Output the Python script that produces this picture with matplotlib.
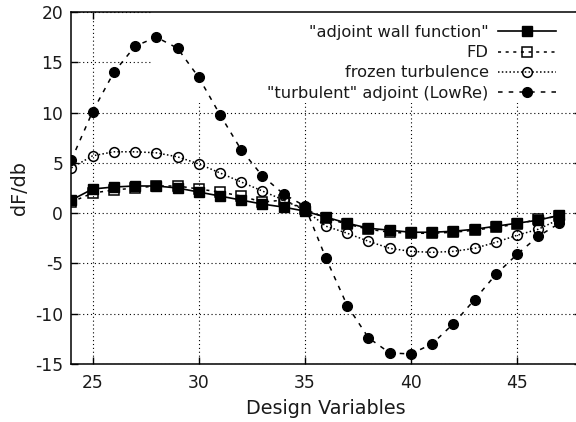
import matplotlib
matplotlib.use('Agg')
import matplotlib.pyplot as plt
from matplotlib.patches import Rectangle

plt.rcParams['font.family'] = ['DejaVu Sans']
plt.rcParams['axes.unicode_minus'] = False

# design variable index
design_vars = list(range(24, 48))

# "adjoint wall function"
wall_fn = [1.3, 2.4, 2.6, 2.7, 2.7, 2.5, 2.1, 1.7, 1.3, 0.9, 0.6, 0.2,
           -0.4, -1.0, -1.5, -1.7, -1.9, -1.9, -1.8, -1.6, -1.3, -1.0, -0.7, -0.2]
# finite differences
fd = [1.1, 2.0, 2.3, 2.5, 2.7, 2.7, 2.4, 2.1, 1.7, 1.1, 1.3, 0.4,
      -0.5, -1.1, -1.6, -1.9, -2.0, -2.0, -1.9, -1.7, -1.4, -1.1, -0.6, -0.3]
# frozen turbulence
frozen = [4.5, 5.7, 6.1, 6.1, 6.0, 5.6, 4.9, 4.0, 3.1, 2.2, 1.3, 0.3,
          -1.3, -2.0, -2.8, -3.5, -3.8, -3.9, -3.8, -3.5, -2.9, -2.2, -1.6, -0.6]
# "turbulent" adjoint (LowRe)
low_re = [5.3, 10.1, 14.0, 16.6, 17.5, 16.4, 13.5, 9.8, 6.3, 3.7, 1.9, 0.7,
          -4.5, -9.2, -12.4, -13.9, -14.0, -13.0, -11.0, -8.6, -6.1, -4.1, -2.3, -1.0]

fig = plt.figure(figsize=(5.76, 4.22), dpi=100)
# axes run a bit past the right edge, like the cropped original
ax = fig.add_axes([71.4 / 576, 58 / 422, 509.3 / 576, 352 / 422])

ax.set_axisbelow(True)
ax.grid(True, color='black', linestyle=(0, (1, 2.5)), linewidth=0.8)

# opaque key area hides the grid under the legend
ax.add_patch(Rectangle((0.158, 0.741), 0.842, 0.259, transform=ax.transAxes,
                       facecolor='white', edgecolor='none', zorder=1))

ax.plot(design_vars, wall_fn, color='black', linestyle='-', linewidth=1.2,
        marker='s', markersize=7.5, markerfacecolor='black',
        label='"adjoint wall function"', zorder=5)
ax.plot(design_vars, fd, color='black', linestyle=(0, (2, 3)), linewidth=1.1,
        marker='s', markersize=7, markerfacecolor='none', markeredgewidth=1.1,
        label='FD', zorder=4)
ax.plot(design_vars, frozen, color='black', linestyle=(0, (1, 1.5)), linewidth=1.1,
        marker='o', markersize=7, markerfacecolor='none', markeredgewidth=1.1,
        label='frozen turbulence', zorder=3)
ax.plot(design_vars, low_re, color='black', linestyle=(0, (3, 4)), linewidth=1.1,
        marker='o', markersize=7, markerfacecolor='black',
        label='"turbulent" adjoint (LowRe)', zorder=2)

ax.set_xlim(24, 48)
ax.set_ylim(-15, 20)
ax.set_xticks([25, 30, 35, 40, 45])
ax.set_yticks([-15, -10, -5, 0, 5, 10, 15, 20])
ax.tick_params(direction='in', length=5, width=1, top=True, right=True,
               labelsize=12.3, colors='black', labelcolor='#1a1a1a')
ax.tick_params(axis='x', pad=7)
ax.tick_params(axis='y', pad=6)
for sp in ax.spines.values():
    sp.set_linewidth(1.1)

ax.set_xlabel('Design Variables', fontsize=13.8, labelpad=5, color='#1a1a1a')
ax.set_ylabel('dF/db', fontsize=13.8, labelpad=4, color='#1a1a1a')

leg = fig.legend(loc='upper right', bbox_to_anchor=(556 / 576, 1 - 25 / 422),
                 frameon=False, markerfirst=False, numpoints=1, fontsize=11.7,
                 handlelength=3.6, handletextpad=0.55, labelspacing=0.32,
                 borderpad=0, borderaxespad=0, labelcolor='#1a1a1a')

fig.savefig('out.png', dpi=100)
